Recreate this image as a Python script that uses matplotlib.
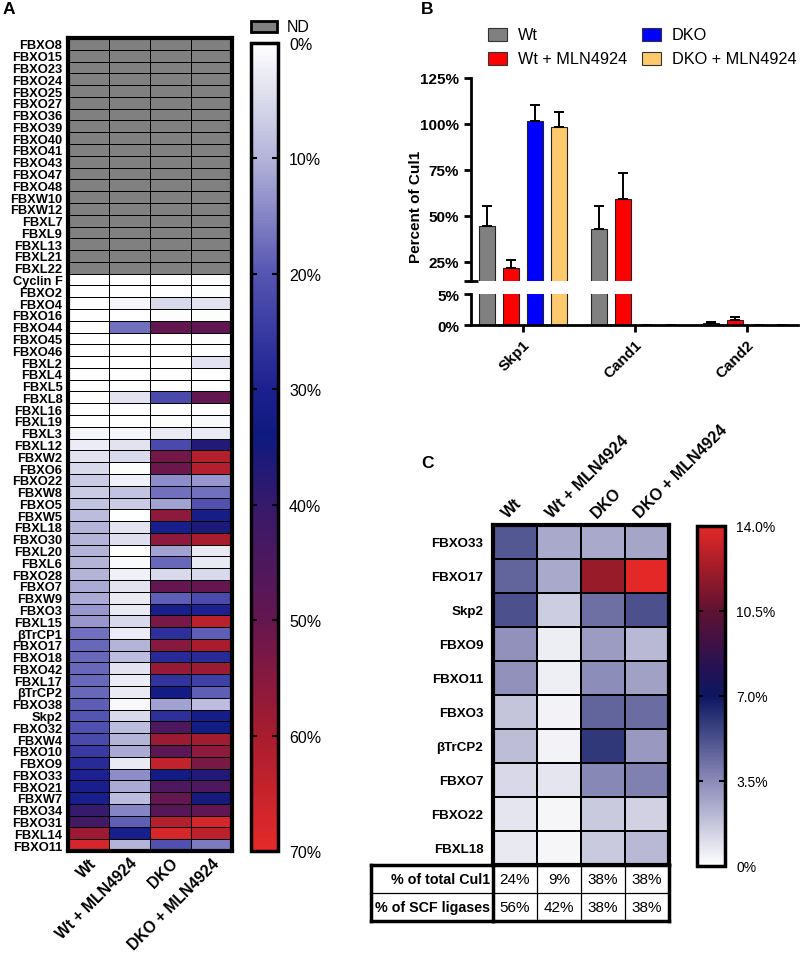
import numpy as np
import matplotlib
matplotlib.use('Agg')
import matplotlib.pyplot as plt
from matplotlib.colors import LinearSegmentedColormap, Normalize
from matplotlib.patches import Rectangle
from matplotlib.cm import ScalarMappable

plt.rcParams['font.family'] = ['Liberation Sans', 'DejaVu Sans']

# ---------------- data ----------------
conditions = ['Wt', 'Wt + MLN4924', 'DKO', 'DKO + MLN4924']

nd_proteins = ['FBXO8', 'FBXO15', 'FBXO23', 'FBXO24', 'FBXO25', 'FBXO27', 'FBXO36',
               'FBXO39', 'FBXO40', 'FBXO41', 'FBXO43', 'FBXO47', 'FBXO48', 'FBXW10',
               'FBXW12', 'FBXL7', 'FBXL9', 'FBXL13', 'FBXL21', 'FBXL22']

a_proteins = ['Cyclin F', 'FBXO2', 'FBXO4', 'FBXO16', 'FBXO44', 'FBXO45', 'FBXO46', 'FBXL2',
              'FBXL4', 'FBXL5', 'FBXL8', 'FBXL16', 'FBXL19', 'FBXL3', 'FBXL12', 'FBXW2',
              'FBXO6', 'FBXO22', 'FBXW8', 'FBXO5', 'FBXW5', 'FBXL18', 'FBXO30', 'FBXL20',
              'FBXL6', 'FBXO28', 'FBXO7', 'FBXW9', 'FBXO3', 'FBXL15', 'βTrCP1', 'FBXO17',
              'FBXO18', 'FBXO42', 'FBXL17', 'βTrCP2', 'FBXO38', 'Skp2', 'FBXO32', 'FBXW4',
              'FBXO10', 'FBXO9', 'FBXO33', 'FBXO21', 'FBXW7', 'FBXO34', 'FBXO31', 'FBXL14',
              'FBXO11']

a_wt = [0, 0, 0.5, 0, 0.5, 0, 0, 0, 0, 0,
        0.5, 0, 0, 1.5, 2.5, 4, 5, 7, 7, 8,
        9, 10, 10, 10, 10, 10, 11, 11, 13, 13,
        17, 18, 18, 18, 18, 18, 19, 20, 21, 22,
        25, 28, 30, 31, 31, 40, 43, 58, 67]
a_wt_mln = [0, 0, 1.5, 0, 17, 0, 0, 0, 0, 0,
            4, 0, 0, 1.5, 4, 5, 0.3, 2, 8, 7,
            0, 4, 4.5, 0, 1, 2, 4, 3, 3, 5,
            2.5, 10, 9, 4, 2.5, 3, 1, 5, 9, 10,
            11, 3, 14, 11, 9, 15, 19, 31, 10]
a_dko = [0, 0, 5, 0.5, 50, 0, 0, 0.5, 0, 0,
         22, 0, 0.5, 3, 22, 52, 51, 14, 17, 12,
         56, 31, 56, 12, 18, 5, 50, 19, 31, 53,
         27, 55, 28, 57, 26, 33, 12, 27, 45, 58,
         48, 64, 33, 45, 50, 47, 62, 67, 21]
a_dko_mln = [0.5, 0.5, 4, 0.5, 49, 0.5, 0.5, 4, 0.5, 0,
             50, 0, 1, 3, 37, 62, 62, 13, 17, 21,
             32, 36, 60, 3, 3, 5, 50, 22, 30, 63,
             19, 60, 28, 58, 24, 19, 9, 32, 33, 59,
             56, 53, 37, 45, 35, 49, 67, 63, 16]

b_targets = ['Skp1', 'Cand1', 'Cand2']
b_wt = [44.5, 43.0, 0.4]
b_wt_err = [11.0, 12.5, 0.1]
b_wt_mln = [21.7, 59.0, 0.8]
b_wt_mln_err = [4.4, 14.3, 0.45]
b_dko = [101.6, 0, 0]
b_dko_err = [8.8, 0, 0]
b_dko_mln = [98.3, 0, 0]
b_dko_mln_err = [8.3, 0, 0]

c_proteins = ['FBXO33', 'FBXO17', 'Skp2', 'FBXO9', 'FBXO11', 'FBXO3', 'βTrCP2',
              'FBXO7', 'FBXO22', 'FBXL18']
c_wt = [5.0, 4.6, 5.2, 3.3, 3.3, 1.8, 2.0, 1.2, 0.8, 0.7]
c_wt_mln = [2.6, 2.6, 1.5, 0.6, 0.5, 0.4, 0.4, 0.8, 0.3, 0.3]
c_dko = [2.6, 12.0, 4.3, 3.0, 3.4, 4.6, 6.0, 3.6, 1.6, 1.6]
c_dko_mln = [2.7, 14.0, 5.2, 2.1, 2.8, 4.4, 3.1, 3.8, 1.4, 2.1]

table_rows = ['% of total Cul1', '% of SCF ligases']
total_cul1 = ['24%', '9%', '38%', '38%']
scf_ligases = ['56%', '42%', '38%', '38%']

# ---------------- figure ----------------
W, H = 800, 954
fig = plt.figure(figsize=(W / 100, H / 100), dpi=100)


def axpx(x0, y0, x1, y1):
    return fig.add_axes([x0 / W, 1 - y1 / H, (x1 - x0) / W, (y1 - y0) / H])


def fx(x):
    return x / W


def fy(y):
    return 1 - y / H


# ---------------- Panel A ----------------
cmapA = LinearSegmentedColormap.from_list('A', [
    (0.0, '#ffffff'), (10 / 70, '#b3b3d9'), (20 / 70, '#5454b2'), (30 / 70, '#1c2090'),
    (34 / 70, '#0e1a80'), (40 / 70, '#361a6c'), (50 / 70, '#641650'),
    (60 / 70, '#a81c2e'), (1.0, '#e42a2a')]).with_extremes(bad='#808080')

nd_block = np.full((len(nd_proteins), 4), np.nan)
meas = np.column_stack([a_wt, a_wt_mln, a_dko, a_dko_mln])
matA = np.ma.masked_invalid(np.vstack([nd_block, meas]))
rowsA = nd_proteins + a_proteins

axA = axpx(68, 39, 232, 852)
axA.pcolormesh(matA, cmap=cmapA, vmin=0, vmax=70, edgecolors='k', linewidth=0.6)
axA.set_xlim(0, 4)
axA.set_ylim(len(rowsA), 0)
axA.set_yticks(np.arange(len(rowsA)) + 0.5, labels=rowsA, fontsize=9.3, fontweight='bold')
axA.set_xticks(np.arange(4) + 0.5, labels=conditions, fontsize=11.3, fontweight='bold',
               rotation=45, ha='right', rotation_mode='anchor')
axA.tick_params(axis='y', length=0, pad=4)
axA.tick_params(axis='x', length=0, pad=3)
for s in axA.spines.values():
    s.set_linewidth(3)

caxA = axpx(251, 44, 278, 852)
cbA = fig.colorbar(ScalarMappable(norm=Normalize(0, 70), cmap=cmapA), cax=caxA)
cbA.set_ticks(np.arange(0, 71, 10), labels=[f'{v}%' for v in range(0, 71, 10)])
cbA.outline.set_linewidth(2.5)
caxA.invert_yaxis()
caxA.tick_params(direction='in', length=4, width=1.5, left=True, right=True,
                 labelsize=11.5, pad=8)

fig.patches.append(Rectangle((fx(251), fy(33)), 26 / W, 11 / H, transform=fig.transFigure,
                             facecolor='#808080', edgecolor='k', lw=2))
fig.text(fx(287), fy(27.5), 'ND', fontsize=11.5, va='center', ha='left')
fig.text(fx(3), fy(9), 'A', fontsize=12.5, fontweight='bold', va='center', ha='left')

# ---------------- Panel B ----------------
b_colors = ['#808080', '#ff0000', '#0000ff', '#fdc96c']
b_series = [(b_wt, b_wt_err), (b_wt_mln, b_wt_mln_err), (b_dko, b_dko_err),
            (b_dko_mln, b_dko_mln_err)]
xg = np.arange(len(b_targets))
bw = 0.143
offs = [-0.321, -0.107, 0.107, 0.321]

axBu = axpx(471, 79, 798, 282)
axBl = axpx(471, 295, 798, 326)
for ax in (axBu, axBl):
    for (vals, errs), col, off in zip(b_series, b_colors, offs):
        ax.bar(xg + off, vals, width=bw, color=col, edgecolor='#222222', linewidth=0.8,
               yerr=[np.zeros(len(errs)), errs], error_kw=dict(ecolor='k', elinewidth=1.4,
                                                              capsize=3.5, capthick=1.4))
    ax.set_xlim(-0.465, 2.46)
    ax.spines['top'].set_visible(False)
    ax.spines['right'].set_visible(False)
    ax.spines['left'].set_linewidth(2)
    ax.spines['bottom'].set_linewidth(2)
    ax.tick_params(width=2, length=5, labelsize=11)

axBu.set_ylim(14.6, 125)
axBu.set_yticks([25, 50, 75, 100, 125], labels=['25%', '50%', '75%', '100%', '125%'],
                fontweight='bold', fontsize=11)
axBu.set_yticks([14.6], minor=True)
axBu.tick_params(which='minor', direction='inout', length=10, width=2)
axBu.spines['bottom'].set_visible(False)
axBu.set_xticks([])

axBl.set_ylim(0, 5)
axBl.set_yticks([0, 5], labels=['0%', '5%'], fontweight='bold', fontsize=11)
axBl.set_xticks(xg, labels=b_targets, fontsize=11, fontweight='bold', rotation=45,
                ha='right', rotation_mode='anchor')

fig.text(fx(416), fy(207), 'Percent of Cul1', rotation=90, ha='center', va='center',
         fontsize=11, fontweight='bold')
fig.text(fx(421), fy(9), 'B', fontsize=12.5, fontweight='bold', va='center', ha='left')

leg_pos = [(488, 29), (488, 53), (642, 29), (642, 53)]
for (lx, ly), col, name in zip(leg_pos, b_colors, conditions):
    fig.patches.append(Rectangle((fx(lx), fy(ly + 13)), 19 / W, 13 / H,
                                 transform=fig.transFigure, facecolor=col,
                                 edgecolor='#333333', lw=0.8))
    fig.text(fx(lx + 30), fy(ly + 6.5), name, fontsize=11.7, va='center', ha='left')

# ---------------- Panel C ----------------
cmapC = LinearSegmentedColormap.from_list('C', [
    (0.0, '#ffffff'), (0.25, '#8a8ab8'), (0.5, '#0c1660'), (0.6, '#2a1250'),
    (0.75, '#5e1232'), (0.875, '#a01c28'), (1.0, '#e42828')])

matC = np.column_stack([c_wt, c_wt_mln, c_dko, c_dko_mln])
axC = axpx(493, 526, 669, 866)
axC.pcolormesh(matC, cmap=cmapC, vmin=0, vmax=14, edgecolors='k', linewidth=1.1)
axC.set_xlim(0, 4)
axC.set_ylim(len(c_proteins), 0)
axC.set_yticks(np.arange(len(c_proteins)) + 0.5, labels=c_proteins, fontsize=9.6,
               fontweight='bold')
axC.set_xticks([])
axC.tick_params(length=0, pad=7)
for s in axC.spines.values():
    s.set_linewidth(3)
for j, name in enumerate(conditions):
    axC.text(j + 0.5 - 0.1, -0.15, name, rotation=45, rotation_mode='anchor',
             ha='left', va='bottom', fontsize=11.5, fontweight='bold', clip_on=False)

caxC = axpx(697, 527, 725, 867)
cbC = fig.colorbar(ScalarMappable(norm=Normalize(0, 14), cmap=cmapC), cax=caxC)
cbC.set_ticks([0, 3.5, 7, 10.5, 14], labels=['0%', '3.5%', '7.0%', '10.5%', '14.0%'])
cbC.outline.set_linewidth(2.5)
caxC.tick_params(direction='in', length=4, width=1.5, left=True, right=True,
                 labelsize=10, pad=8)

fig.text(fx(421), fy(463), 'C', fontsize=12.5, fontweight='bold', va='center', ha='left')

axT = axpx(493, 866, 669, 922)
axT.set_xlim(0, 4)
axT.set_ylim(2, 0)
axT.set_xticks([])
axT.set_yticks([])
for s in axT.spines.values():
    s.set_linewidth(2.5)
axT.axhline(1, color='k', lw=0.9)
for v in (1, 2, 3):
    axT.axvline(v, color='k', lw=0.9)
xl = (371 - 493) / 44
axT.plot([xl, 0], [0, 0], color='k', lw=2.5, clip_on=False, solid_capstyle='projecting')
axT.plot([xl, 0], [2, 2], color='k', lw=2.5, clip_on=False, solid_capstyle='projecting')
axT.plot([xl, 0], [1, 1], color='k', lw=0.9, clip_on=False)
axT.plot([xl, xl], [0, 2], color='k', lw=2.5, clip_on=False, solid_capstyle='projecting')
for i, (lab, vals) in enumerate(zip(table_rows, [total_cul1, scf_ligases])):
    axT.text(-0.06, i + 0.5, lab, ha='right', va='center', fontsize=10.3,
             fontweight='bold', clip_on=False)
    for j, v in enumerate(vals):
        axT.text(j + 0.5, i + 0.5, v, ha='center', va='center', fontsize=11)

fig.savefig('out.png', dpi=100)
